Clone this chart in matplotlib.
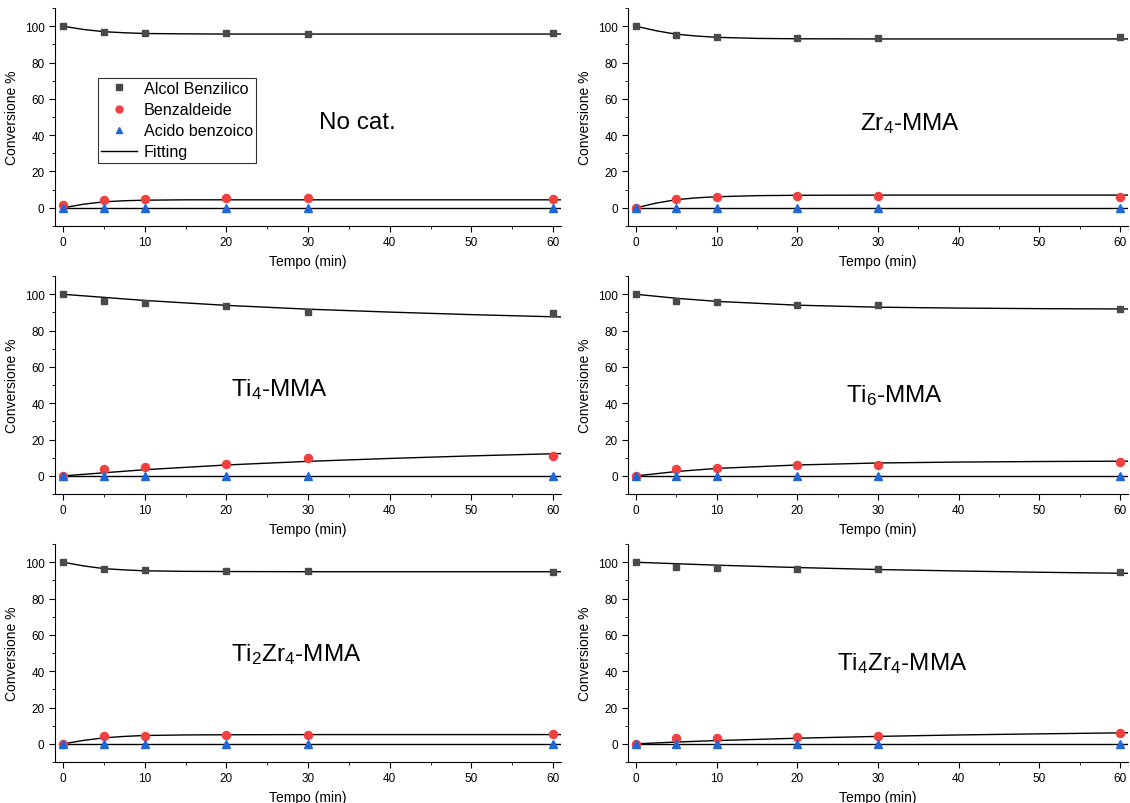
import matplotlib.pyplot as plt
from matplotlib.ticker import MultipleLocator

plt.rcParams['font.family'] = ['Liberation Sans', 'DejaVu Sans']
plt.rcParams['mathtext.fontset'] = 'custom'
plt.rcParams['mathtext.rm'] = 'Liberation Sans'
plt.rcParams['mathtext.it'] = 'Liberation Sans:italic'
plt.rcParams['mathtext.bf'] = 'Liberation Sans:bold'

# tempi di campionamento (min)
tempo = [0, 5, 10, 20, 30, 60]

# etichette dei pannelli
catalizzatori = ['No cat.', 'Zr$_4$-MMA', 'Ti$_4$-MMA', 'Ti$_6$-MMA',
                 'Ti$_2$Zr$_4$-MMA', 'Ti$_4$Zr$_4$-MMA']

# punti sperimentali
alcol = [
    [100, 97.0, 96.5, 96.2, 96.0, 96.5],
    [100, 95.2, 93.9, 93.6, 93.6, 93.9],
    [100, 96.5, 95.2, 93.8, 90.3, 89.5],
    [100, 96.5, 96.0, 93.9, 94.3, 92.1],
    [100, 96.1, 95.6, 95.2, 95.2, 94.7],
    [100, 97.4, 97.1, 96.5, 96.1, 94.5],
]
benzaldeide = [
    [1.8, 4.5, 5.0, 5.3, 5.5, 5.0],
    [0, 5.1, 6.1, 6.6, 6.6, 6.1],
    [0, 3.9, 5.0, 6.4, 9.9, 10.7],
    [0, 3.9, 4.2, 6.2, 6.1, 7.9],
    [0, 4.2, 4.4, 5.0, 5.0, 5.3],
    [0, 3.1, 3.3, 3.9, 4.2, 5.9],
]
acido = [[0, 0, 0, 0, 0, 0]] * 6

# curve di fitting
t_fit_a = [0, 2.5, 5, 7.5, 10, 15, 20, 30, 45, 61]
t_fit_b = [0, 5, 10, 20, 30, 40, 50, 61]
fit_t = [t_fit_a, t_fit_a, t_fit_b, t_fit_b, t_fit_a, t_fit_b]
fit_alcol = [
    [100, 98.2, 97.0, 96.4, 96.0, 95.8, 95.7, 95.7, 95.7, 95.7],
    [100, 97.5, 95.6, 94.6, 93.9, 93.3, 93.1, 93.0, 93.0, 93.0],
    [100, 98.3, 96.6, 93.9, 91.8, 90.2, 88.8, 87.5],
    [100, 97.8, 96.1, 94.0, 92.9, 92.4, 92.1, 91.9],
    [100, 98.0, 96.5, 95.8, 95.3, 95.0, 94.9, 94.8, 94.8, 94.8],
    [100, 99.2, 98.4, 97.1, 96.0, 95.2, 94.5, 93.9],
]
fit_benz = [
    [0, 2.0, 3.3, 3.9, 4.2, 4.4, 4.4, 4.4, 4.4, 4.4],
    [0, 2.6, 4.5, 5.5, 6.1, 6.7, 6.9, 7.0, 7.0, 7.0],
    [0, 1.7, 3.4, 6.0, 8.0, 9.6, 11.0, 12.3],
    [0, 2.4, 4.1, 6.0, 7.1, 7.6, 7.9, 8.1],
    [0, 1.9, 3.3, 4.1, 4.6, 4.9, 5.0, 5.1, 5.1, 5.1],
    [0, 1.0, 1.8, 3.1, 4.1, 4.9, 5.5, 6.1],
]
fit_acido = [[0, 0], [0, 0], [0, 0], [0, 0], [0, 0], [0, 0]]

# posizione delle etichette nei pannelli (dati)
pos_label = [(36, 47), (34, 47), (26.5, 48), (32, 45), (28.5, 49.5), (33, 45)]

fig = plt.figure(figsize=(11.3, 8.04), dpi=100)
left_cols = [(0.0487, 0.448), (0.5558, 0.4425)]
bottoms = [0.7177, 0.3843, 0.051]

for i in range(6):
    r, c = divmod(i, 2)
    l, w = left_cols[c]
    ax = fig.add_axes([l, bottoms[r], w, 0.271])

    ax.plot(fit_t[i], fit_alcol[i], color='black', lw=1, zorder=2)
    ax.plot(fit_t[i], fit_benz[i], color='black', lw=1, zorder=2)
    ax.plot([0, 61], fit_acido[i], color='black', lw=1, zorder=2)

    ax.plot(tempo, alcol[i], 's', color='#4a4a4a', ms=5, zorder=3,
            label='Alcol Benzilico')
    ax.plot(tempo, benzaldeide[i], 'o', color='#f04040', ms=5.8, zorder=3,
            label='Benzaldeide')
    ax.plot(tempo, acido[i], '^', color='#1f66d6', ms=5.8, zorder=4,
            label='Acido benzoico')

    ax.set_xlim(-1, 61)
    ax.set_ylim(-10, 110)
    ax.xaxis.set_major_locator(MultipleLocator(10))
    ax.xaxis.set_minor_locator(MultipleLocator(5))
    ax.yaxis.set_major_locator(MultipleLocator(20))
    ax.yaxis.set_minor_locator(MultipleLocator(10))
    ax.tick_params(which='both', direction='out', labelsize=8.5)
    ax.tick_params(which='major', length=4)
    ax.tick_params(which='minor', length=2)
    ax.spines['top'].set_visible(False)
    ax.spines['right'].set_visible(False)
    ax.set_xlabel('Tempo (min)', fontsize=10, labelpad=4)
    ax.set_ylabel('Conversione %', fontsize=10, labelpad=4)

    ax.text(pos_label[i][0], pos_label[i][1], catalizzatori[i],
            fontsize=17.5, ha='center', va='center')

    if i == 0:
        h, lab = ax.get_legend_handles_labels()
        fit_line, = ax.plot([], [], color='black', lw=1)
        leg = ax.legend(h + [fit_line], lab + ['Fitting'],
                        loc='upper left', bbox_to_anchor=(0.085, 0.68),
                        fontsize=11.6, frameon=True, fancybox=False,
                        edgecolor='black', handlelength=2.2,
                        borderpad=0.2, labelspacing=0.38, handletextpad=0.45,
                        borderaxespad=0)
        leg.get_frame().set_linewidth(0.8)
        for hnd in leg.legend_handles[:3]:
            hnd.set_markersize(5)

fig.savefig('out.png', dpi=100)
